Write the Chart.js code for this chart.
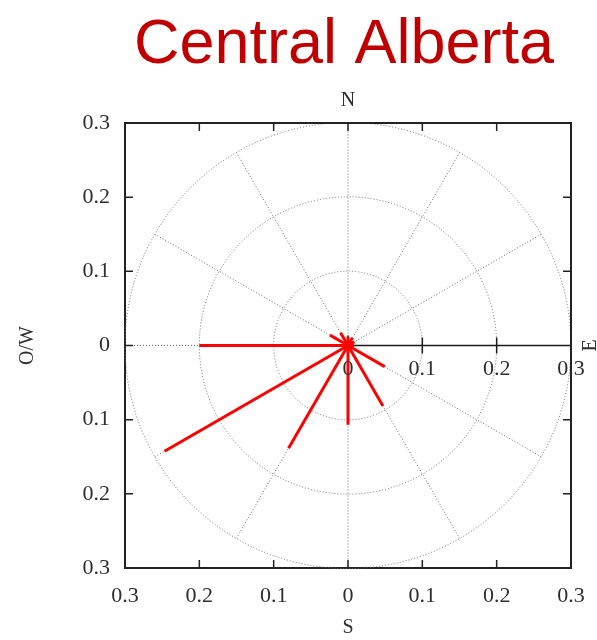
<!DOCTYPE html>
<html>
<head>
<meta charset="utf-8">
<title>Central Alberta</title>
<script src="https://cdn.jsdelivr.net/npm/chart.js@4.4.1/dist/chart.umd.min.js"></script>
<style>
  html, body { margin: 0; padding: 0; background: #ffffff; }
  canvas { display: block; }
</style>
</head>
<body>
<canvas id="rose" width="597" height="640"></canvas>
<script>
// Wind directions (degrees, counter-clockwise from east) and vector lengths
const directions = [0, 30, 60, 90, 120, 150, 180, 210, 240, 270, 300, 330];
const magnitudes = [0.008, 0.01, 0.012, 0.012, 0.02, 0.028, 0.2, 0.285, 0.16, 0.107, 0.094, 0.057];

// Axis tick labels (absolute distances either side of the centre)
const tickValues = [-0.3, -0.2, -0.1, 0, 0.1, 0.2, 0.3];
const tickLabels = ['0.3', '0.2', '0.1', '0', '0.1', '0.2', '0.3'];
const centreAxisValues = [0, 0.1, 0.2, 0.3];
const centreAxisLabels = ['0', '0.1', '0.2', '0.3'];

// Polar grid
const ringRadii = [0.1, 0.2, 0.3];
const spokeAngles = [0, 30, 60, 90, 120, 150, 180, 210, 240, 270, 300, 330];

const titleText = 'Central Alberta';
const SERIF = '"Liberation Serif", "DejaVu Serif", serif';
const LABEL_COLOR = '#2e2e2e';

const rad = d => d * Math.PI / 180;

// One two-point line per direction, from the origin out to the vector tip
const datasets = directions.map((d, i) => ({
  label: d + '°',
  data: [
    { x: 0, y: 0 },
    { x: magnitudes[i] * Math.cos(rad(d)), y: magnitudes[i] * Math.sin(rad(d)) }
  ],
  showLine: true,
  borderColor: '#ff0000',
  borderWidth: 3,
  pointRadius: 0,
  pointHoverRadius: 0,
  borderCapStyle: 'butt',
  fill: false
}));

const roseDecor = {
  id: 'roseDecor',
  beforeDatasetsDraw(chart) {
    const { ctx, scales: { x, y } } = chart;
    const cx = x.getPixelForValue(0), cy = y.getPixelForValue(0);
    const unit = x.getPixelForValue(0.1) - cx;
    ctx.save();
    // dotted rings and spokes
    ctx.strokeStyle = '#6e6e6e';
    ctx.lineWidth = 1;
    ctx.setLineDash([1, 2]);
    ringRadii.forEach(r => {
      ctx.beginPath();
      ctx.arc(cx, cy, r / 0.1 * unit, 0, Math.PI * 2);
      ctx.stroke();
    });
    const rMax = ringRadii[ringRadii.length - 1];
    spokeAngles.forEach(a => {
      ctx.beginPath();
      ctx.moveTo(cx, cy);
      ctx.lineTo(x.getPixelForValue(rMax * Math.cos(rad(a))), y.getPixelForValue(rMax * Math.sin(rad(a))));
      ctx.stroke();
    });
    ctx.setLineDash([]);
    // centre axis towards the east, with ticks
    ctx.strokeStyle = '#1a1a1a';
    ctx.lineWidth = 1.5;
    ctx.beginPath();
    ctx.moveTo(cx, cy);
    ctx.lineTo(x.right, cy);
    ctx.stroke();
    centreAxisValues.forEach(v => {
      if (v === 0 || v >= 0.3) return;
      const px = x.getPixelForValue(v);
      ctx.beginPath();
      ctx.moveTo(px, cy - 8);
      ctx.lineTo(px, cy + 8);
      ctx.stroke();
    });
    ctx.beginPath();
    ctx.moveTo(cx, cy - 10);
    ctx.lineTo(cx, cy);
    ctx.stroke();
    ctx.restore();
  },
  afterDraw(chart) {
    const { ctx, chartArea: a, scales: { x, y } } = chart;
    const cx = x.getPixelForValue(0), cy = y.getPixelForValue(0);
    ctx.save();
    // frame top and right edges
    ctx.strokeStyle = '#222';
    ctx.lineWidth = 2;
    ctx.beginPath();
    ctx.moveTo(a.left - 1, a.top);
    ctx.lineTo(a.right, a.top);
    ctx.lineTo(a.right, a.bottom + 1);
    ctx.stroke();
    // inward tick marks on all four edges
    ctx.lineWidth = 1.5;
    tickValues.forEach(v => {
      if (Math.abs(v) >= 0.3) return;
      const px = x.getPixelForValue(v), py = y.getPixelForValue(v);
      ctx.beginPath();
      ctx.moveTo(px, a.top); ctx.lineTo(px, a.top + 8);
      ctx.moveTo(px, a.bottom); ctx.lineTo(px, a.bottom - 8);
      ctx.moveTo(a.left, py); ctx.lineTo(a.left + 8, py);
      if (v !== 0) { ctx.moveTo(a.right, py); ctx.lineTo(a.right - 8, py); }
      ctx.stroke();
    });
    // labels along the centre axis
    ctx.fillStyle = LABEL_COLOR;
    ctx.font = '22px ' + SERIF;
    ctx.textAlign = 'center';
    ctx.textBaseline = 'middle';
    centreAxisValues.forEach((v, i) => {
      ctx.fillText(centreAxisLabels[i], x.getPixelForValue(v), cy + 24);
    });
    // compass letters
    ctx.font = '20px ' + SERIF;
    ctx.fillText('N', cx, 101);
    ctx.fillText('S', cx, 628);
    ctx.save();
    ctx.translate(28, cy);
    ctx.rotate(-Math.PI / 2);
    ctx.fillText('O/W', 0, 0);
    ctx.restore();
    ctx.save();
    ctx.translate(591, cy);
    ctx.rotate(-Math.PI / 2);
    ctx.fillText('E', 0, 0);
    ctx.restore();
    // title
    ctx.fillStyle = '#c00000';
    ctx.font = '63px "Liberation Sans", Arial, sans-serif';
    ctx.textBaseline = 'alphabetic';
    ctx.fillText(titleText, 344, 63);
    ctx.restore();
  }
};

new Chart(document.getElementById('rose'), {
  type: 'scatter',
  data: { datasets },
  plugins: [roseDecor],
  options: {
    responsive: false,
    animation: false,
    events: [],
    layout: { padding: { top: 123, right: 26, left: 0, bottom: 0 } },
    plugins: { legend: { display: false }, tooltip: { enabled: false } },
    scales: {
      x: {
        type: 'linear',
        min: -0.3, max: 0.3,
        afterBuildTicks: s => { s.ticks = tickValues.map(v => ({ value: v })); },
        afterFit: s => { s.height = 72; s.paddingLeft = 0; s.paddingRight = 0; },
        grid: { display: false, drawTicks: false },
        border: { display: true, color: '#222', width: 2 },
        ticks: {
          padding: 15,
          color: LABEL_COLOR,
          font: { family: SERIF, size: 22 },
          maxRotation: 0,
          autoSkip: false,
          callback: (v, i) => tickLabels[i]
        }
      },
      y: {
        type: 'linear',
        min: -0.3, max: 0.3,
        afterBuildTicks: s => { s.ticks = tickValues.map(v => ({ value: v })); },
        afterFit: s => { s.width = 125; s.paddingTop = 0; s.paddingBottom = 0; },
        grid: { display: false, drawTicks: false },
        border: { display: true, color: '#222', width: 2 },
        ticks: {
          padding: 15,
          color: LABEL_COLOR,
          font: { family: SERIF, size: 22 },
          autoSkip: false,
          callback: (v, i) => tickLabels[i]
        }
      }
    }
  }
});
</script>
</body>
</html>
